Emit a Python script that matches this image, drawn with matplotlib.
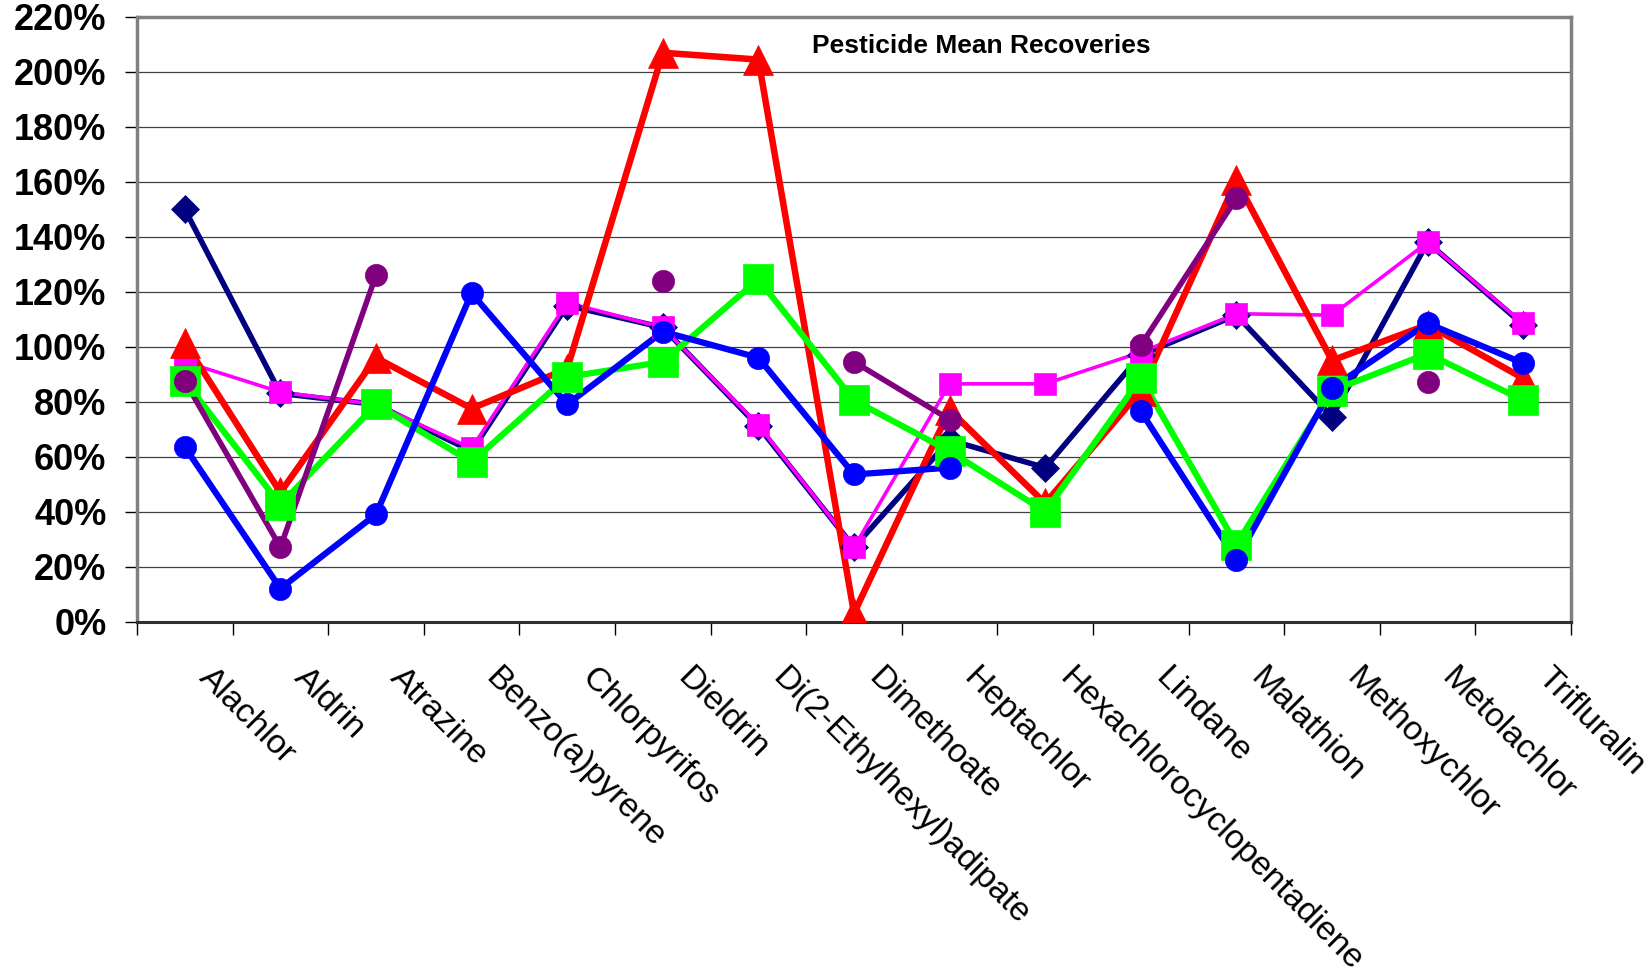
import numpy as np
import matplotlib
matplotlib.use("Agg")
import matplotlib.pyplot as plt
import matplotlib.transforms as mtransforms
from matplotlib.ticker import FuncFormatter

nan = np.nan

compounds = ["Alachlor", "Aldrin", "Atrazine", "Benzo(a)pyrene", "Chlorpyrifos",
             "Dieldrin", "Di(2-Ethylhexyl)adipate", "Dimethoate", "Heptachlor",
             "Hexachlorocyclopentadiene", "Lindane", "Malathion", "Methoxychlor",
             "Metolachlor", "Trifluralin"]

# Mean recoveries (%) per method/lab series
navy_vals = [150, 83, 79, 62, 115, 107, 71, 27, 66, 56, 97, 111.5, 74.5, 138, 108]
magenta_vals = [94.5, 83.5, 79, 63, 116, 107, 71.5, 27, 86.5, 86.5, 98, 112, 111.5, 138, 108.5]
red_vals = [101.5, 47, 96, 77.5, 92, 207, 204.5, 3, 77, 43, 84, 160.5, 95, 108, 88.5]
green_vals = [87.5, 42.5, 79, 58, 89, 94.5, 124.5, 80.5, 62, 40, 88.5, 28, 84, 97.5, 80.5]
blue_vals = [63.5, 12, 39, 119.5, 79, 105.5, 96, 53.5, 56, nan, 76.5, 22.5, 85, 108.5, 94]
purple_vals = [87.5, 27, 126, nan, nan, 124, nan, 94.5, 73.5, nan, 100.5, 154, nan, 87, nan]

y_ticks = list(range(0, 221, 20))

series = [
    (navy_vals, "#000080", "D", 14.5, 4.0),
    (magenta_vals, "#FF00FF", "s", 15.5, 2.6),
    (red_vals, "#FF0000", "^", 21, 4.7),
    (green_vals, "#00FF00", "s", 21, 4.5),
    (blue_vals, "#0000FF", "o", 16, 4.5),
    (purple_vals, "#800080", "o", 16, 4.0),
]

fig = plt.figure(figsize=(16.51, 9.76), dpi=100)
ax = fig.add_axes([137 / 1651, 1 - 621.5 / 976, (1571 - 137) / 1651, (621.5 - 17) / 976])

x = np.arange(len(compounds)) + 0.5

# lines first, then markers on top (all series)
for i, (vals, col, mk, ms, lw) in enumerate(series):
    ax.plot(x, vals, color=col, lw=lw, solid_joinstyle="miter", zorder=3 + i * 0.01)
for i, (vals, col, mk, ms, lw) in enumerate(series):
    ax.plot(x, vals, linestyle="none", marker=mk, markersize=ms,
            markerfacecolor=col, markeredgecolor=col, markeredgewidth=0.5,
            zorder=4 + i * 0.01)

ax.set_xlim(0, len(compounds))
ax.set_ylim(0, 220)
ax.set_yticks(y_ticks)
ax.yaxis.set_major_formatter(FuncFormatter(lambda v, p: f"{int(round(v))}%"))
ax.yaxis.grid(True, color="#404040", lw=0.9)
ax.set_axisbelow(True)

ax.set_xticks(np.arange(0, len(compounds) + 1))
ax.set_xticklabels([])
ax.tick_params(axis="x", which="major", direction="out", length=9, width=1.0, color="black")
ax.tick_params(axis="y", which="major", direction="out", length=9, width=1.0, color="black",
               labelsize=26, pad=13)
for lab in ax.get_yticklabels():
    lab.set_fontweight("bold")
    lab.set_family("Liberation Sans")

for side in ("top", "right", "left"):
    ax.spines[side].set_color("#808080")
    ax.spines[side].set_linewidth(2.5)
ax.spines["bottom"].set_color("#303030")
ax.spines["bottom"].set_linewidth(2.2)

# category labels, rotated downward to the right
offset = mtransforms.ScaledTranslation(30 / 100, -41 / 100, fig.dpi_scale_trans)
trans = mtransforms.blended_transform_factory(ax.transData, ax.transAxes) + offset
for xi, name in zip(x, compounds):
    ax.text(xi, 0, name, transform=trans, rotation=-45, rotation_mode="anchor",
            ha="left", va="top", fontsize=24.3, family="Liberation Sans", clip_on=False)

fig.text(981 / 1651, 1 - 46 / 976, "Pesticide Mean Recoveries", ha="center", va="center",
         fontsize=19, fontweight="bold", family="Liberation Sans")

fig.savefig("out.png", dpi=100, facecolor="white")
